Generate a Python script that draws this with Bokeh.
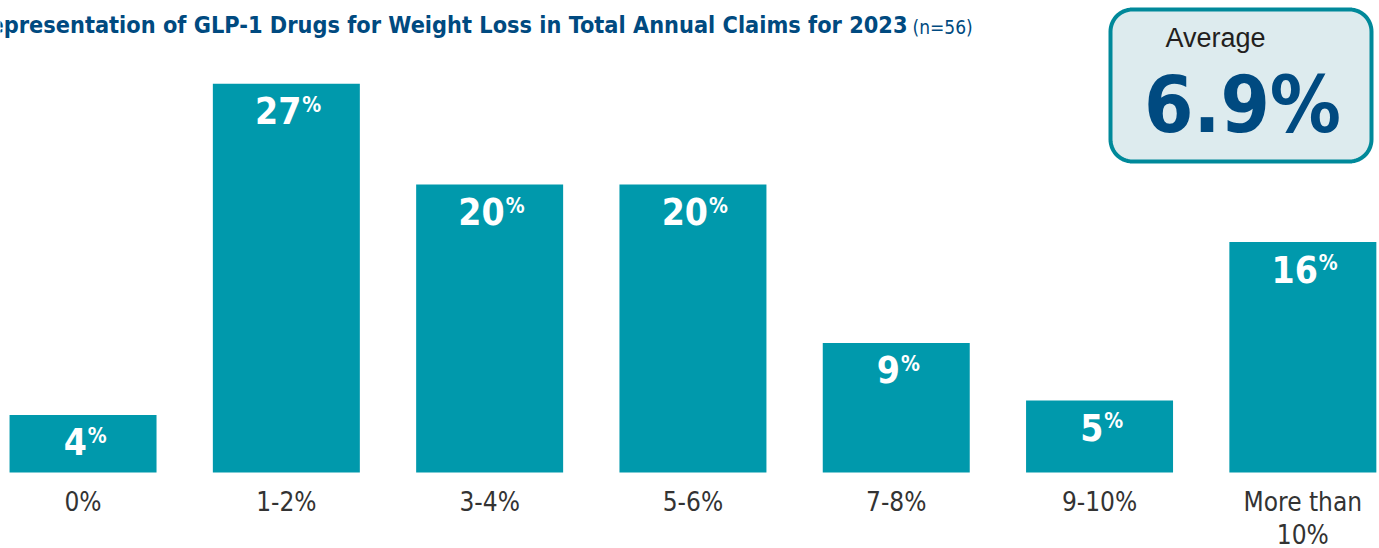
import numpy as np
from bokeh.plotting import figure
from bokeh.models import Range1d, ColumnDataSource
from bokeh.core.properties import value
from bokeh.embed import file_html
from bokeh.resources import INLINE

# ---- data ----
categories = ["0%", "1-2%", "3-4%", "5-6%", "7-8%", "9-10%", "More than\n10%"]
shares = [4, 27, 20, 20, 9, 5, 16]
title_main = "Representation of GLP-1 Drugs for Weight Loss in Total Annual Claims for 2023"
title_n = "(n=56)"
average_label = "Average"
average_value = "6.9%"

# ---- styles ----
W, H = 1379, 548
BAR = "#0099AC"
BLUE = "#004A80"
BOX_LINE = "#00899A"
BOX_FILL = "#DDEBEE"
GREY = "#333333"
NARROW = "DejaVu Sans Condensed"
SANS = "Liberation Sans"

p = figure(width=W, height=H, x_range=Range1d(-0.406, 6.377), y_range=Range1d(-5.28, 32.78),
           output_backend="svg", toolbar_location=None, min_border=0,
           x_axis_location=None, y_axis_location=None)
p.grid.visible = False
p.outline_line_color = None
p.background_fill_color = "white"
p.border_fill_color = "white"
p.extra_x_ranges = {"px": Range1d(0, W)}
p.extra_y_ranges = {"px": Range1d(H, 0)}

x_idx = list(range(len(categories)))
p.vbar(x=x_idx, top=shares, bottom=0, width=0.723, fill_color=BAR, line_color=None)

# value labels inside bars
num = [str(v) for v in shares]
d_num = [(len(s) * 22.5 - 19) / 2 + 2 for s in num]
src = ColumnDataSource(dict(x=x_idx, y=shares, num=num, pct=["%"] * len(num),
                            d_num=d_num, d_pct=[d + 1 for d in d_num]))
p.text(x="x", y="y", text="num", x_offset="d_num", y_offset=27, source=src,
       text_align="right", text_baseline="alphabetic", text_font=value(NARROW),
       text_font_style="bold", text_font_size="37px", text_color="white")
p.text(x="x", y="y", text="pct", x_offset="d_pct", y_offset=21, source=src,
       text_align="left", text_baseline="alphabetic", text_font=value(NARROW),
       text_font_style="bold", text_font_size="21px", text_color="white")

# category labels
p.text(x=x_idx, y=[486] * len(categories), y_range_name="px", text=categories,
       text_align="center", text_baseline="top", text_font=value(NARROW),
       text_font_size="26px", text_color=GREY, text_line_height=1.1)

# title
p.text(x=[907], y=[24.4], x_range_name="px", y_range_name="px", text=[title_main],
       text_align="right", text_baseline="alphabetic", text_font=value(NARROW),
       text_font_style="bold", text_font_size="23.3px", text_color=BLUE)
p.text(x=[912], y=[26.2], x_range_name="px", y_range_name="px", text=[title_n],
       text_align="left", text_baseline="alphabetic", text_font=value(NARROW),
       text_font_size="19px", text_color=BLUE)

# average box (rounded rectangle, pixel coordinates)
def rounded_rect(l, r, t, b, rad, n=16):
    xs, ys = [], []
    corners = [(r - rad, t + rad, -90, 0), (r - rad, b - rad, 0, 90),
               (l + rad, b - rad, 90, 180), (l + rad, t + rad, 180, 270)]
    for cx, cy, a0, a1 in corners:
        a = np.radians(np.linspace(a0, a1, n))
        xs.extend(cx + rad * np.cos(a))
        ys.extend(cy + rad * np.sin(a))
    return xs, ys

bx, by = rounded_rect(1110, 1371, 9, 161, 22)
p.patch(bx, by, x_range_name="px", y_range_name="px", fill_color=BOX_FILL,
        line_color=BOX_LINE, line_width=4)
p.text(x=[1215], y=[37.3], x_range_name="px", y_range_name="px", text=[average_label],
       text_align="center", text_baseline="alphabetic", text_font=value(SANS),
       text_font_size="27px", text_color="#231F20")
p.text(x=[1242], y=[104.5], x_range_name="px", y_range_name="px", text=[average_value],
       text_align="center", text_baseline="alphabetic", text_font=value(NARROW),
       text_font_style="bold", text_font_size="79px", text_color=BLUE)

open("out.html", "w").write(file_html(p, INLINE))
